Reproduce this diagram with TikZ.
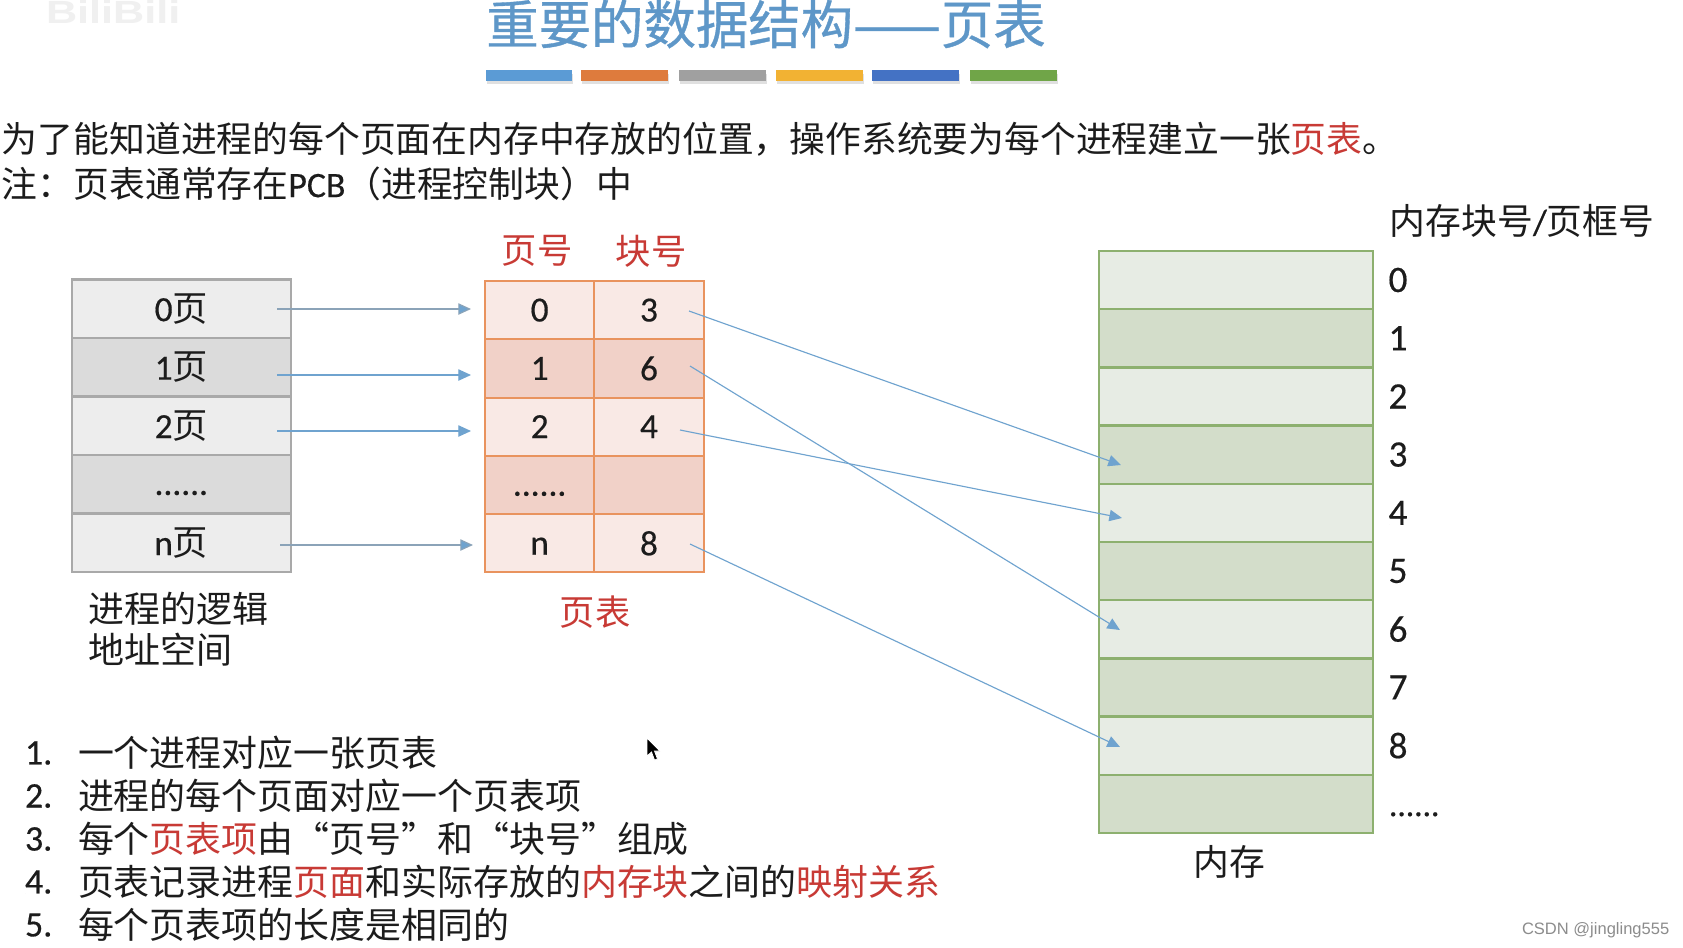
\documentclass[tikz,border=0pt]{standalone}
\usepackage{fontspec}
\setmainfont{Noto Sans CJK SC}
\newfontfamily\lat[FakeBold=0.4]{Carlito}
\newfontfamily\wm{Liberation Sans}
\newfontfamily\ttlfont[FakeBold=0.7]{Noto Sans CJK SC}
\usetikzlibrary{arrows.meta}
\definecolor{ttl}{HTML}{5E97C8}
\definecolor{redt}{HTML}{C83A35}
\definecolor{txt}{HTML}{1C1C1C}
\definecolor{gl}{HTML}{EDEDED}
\definecolor{gd}{HTML}{DBDBDB}
\definecolor{gb}{HTML}{A9A9A9}
\definecolor{ol}{HTML}{F9E9E5}
\definecolor{od}{HTML}{F1D1C8}
\definecolor{ob}{HTML}{E9935E}
\definecolor{ml}{HTML}{E7ECE4}
\definecolor{md}{HTML}{D3DDCA}
\definecolor{mb}{HTML}{8DB06F}
\definecolor{arw}{HTML}{6FA3CF}
\definecolor{arg}{HTML}{8BA3B8}
\newcommand{\rd}[1]{\textcolor{redt}{#1}}
\newcommand{\dts}{\vphantom{0}\raisebox{0.5pt}{......}}
\tikzset{
 x=0.75pt,y=-0.75pt,
 lbl/.style={inner sep=0pt,outer sep=0pt,text=txt,font=\fontsize{26.85pt}{32pt}\selectfont},
 lft/.style={lbl,anchor=west},
 redlbl/.style={lbl,text=redt,font=\fontsize{26.5pt}{30pt}\selectfont},
 num/.style={lbl,anchor=center,font=\lat\fontsize{28pt}{32pt}\selectfont},
 cell/.style={draw=#1,line width=1.7pt,inner sep=0pt,outer sep=0pt,anchor=north west,text=txt,font=\fontsize{26.5pt}{30pt}\selectfont},
 gcell/.style={cell=gb,minimum width=164pt,minimum height=43.8pt},
 ocell/.style={cell=ob,line width=1.5pt,minimum width=82pt,minimum height=43.7pt},
 mcell/.style={cell=mb,minimum width=205.5pt,minimum height=43.7pt},
 bar/.style={inner sep=0pt,outer sep=0pt,minimum height=8pt,anchor=north west},
 conn/.style={draw=arw,line width=0.85pt,-{Triangle[length=9.5pt,width=8.5pt,fill=arw]}},
 conng/.style={conn,draw=arg},
}
\begin{document}
\begin{tikzpicture}
\useasboundingbox (0,0) rectangle (1683,947);
\clip (0,0) rectangle (1683,947);
\fill[white] (0,0) rectangle (1683,947);
% watermark
\node[lft,text=black!6,font=\wm\bfseries\fontsize{24pt}{24pt}\selectfont] (wmk) at (46,12) {\scalebox{1.35}[1]{BiliBili}};
% title
\node[lbl,anchor=center,text=ttl,font=\ttlfont\fontsize{39.3pt}{44pt}\selectfont] (title) at (766,24) {重要的数据结构——页表};
% bars
\foreach \nm/\xa/\bw/\cc in {b1/486/86/5B9BD5,b2/581/87/DE7B3D,b3/679/87/A0A0A0,b4/776/87/F2B233,b5/872/87/4472C4,b6/970/87/70A548}{
  \definecolor{barc}{HTML}{\cc}
  \fill[black!12] (\xa+1,74) rectangle (\xa+\bw+1,84);
  \node[bar,fill=barc,minimum width=\bw*0.75pt] (\nm) at (\xa,70) {};
}
% paragraph
\node[lft] (p1) at (2,139) {为了能知道进程的每个页面在内存中存放的位置，操作系统要为每个进程建立一张\rd{页表}。};
\node[lft] (p2) at (2,183.5) {注：页表通常存在{\lat PCB}（进程控制块）中};
% left column
\node[gcell,fill=gl] (g0) at (72,279.5) {{\lat 0}页};
\node[gcell,fill=gd] (g1) at (72,338) {{\lat 1}页};
\node[gcell,fill=gl] (g2) at (72,396.5) {{\lat 2}页};
\node[gcell,fill=gd] (g3) at (72,455) {\lat \dts};
\node[gcell,fill=gl] (g4) at (72,513.5) {{\lat n}页};
% page table
\foreach \nm/\yy/\fc/\ca/\cb in {0/281/ol/0/3,1/339.3/od/1/6,2/397.6/ol/2/4,3/455.9/od/\dts/{},4/514.2/ol/n/8}{
  \node[ocell,fill=\fc] (ta\nm) at (485,\yy) {\lat\vphantom{0}\ca};
  \node[ocell,fill=\fc] (tb\nm) at (594.3,\yy) {\lat\vphantom{0}\cb};
}
\node[redlbl] (hd1) at (537,251) {页号};
\node[redlbl] (hd2) at (651,251) {块号};
\node[redlbl] (tname) at (595,612) {页表};
% memory
\foreach \i/\fc in {0/ml,1/md,2/ml,3/md,4/ml,5/md,6/ml,7/md,8/ml,9/md}{
  \node[mcell,fill=\fc] (m\i) at (1099,251+\i*58.2) {};
}
\foreach \i in {0,1,2,3,4,5,6,7,8}{
  \node[num] (mn\i) at (1398,280+\i*58.2) {\i};
}
\node[num,anchor=west,font=\lat\fontsize{25pt}{30pt}\selectfont] (mnd) at (1389,806) {\dts};
\node[lbl,anchor=center] (mhd) at (1522,221) {内存块号{\lat /}页框号};
\node[lbl,anchor=center] (mname) at (1229,862) {内存};
\node[lft,font=\fontsize{27pt}{30pt}\selectfont] (ln1) at (88.5,609) {进程的逻辑};
\node[lft,font=\fontsize{27pt}{30pt}\selectfont] (ln2) at (88.5,650) {地址空间};
% list
\foreach \i/\yy/\lt in {1/753/一个进程对应一张页表,2/796/进程的每个页面对应一个页表项,3/839/每个\rd{页表项}由“页号”和“块号”组成,4/882/页表记录进程\rd{页面}和实际存放的\rd{内存块}之间的\rd{映射关系},5/925/每个页表项的长度是相同的}{
  \node[lft,font=\lat\fontsize{27pt}{30pt}\selectfont] (li\i n) at (25,\yy) {\i.};
  \node[lft,font=\fontsize{26.95pt}{30pt}\selectfont] (li\i) at (78,\yy) {\lt};
}
% connector ends
\coordinate (s0) at (277,309); \coordinate (e0) at (471,309);
\coordinate (s1) at (277,375); \coordinate (e1) at (471,375);
\coordinate (s2) at (277,431); \coordinate (e2) at (471,431);
\coordinate (s4) at (280,545); \coordinate (e4) at (473,545);
\coordinate (d0) at (689,311); \coordinate (f0) at (1121,465);
\coordinate (d1) at (690,366); \coordinate (f1) at (1120,630);
\coordinate (d2) at (680,430); \coordinate (f2) at (1122,518);
\coordinate (d4) at (690,544); \coordinate (f4) at (1120,747);
\draw[conng] (s0) -- (e0);
\draw[conn] (s1) -- (e1);
\draw[conn] (s2) -- (e2);
\draw[conng] (s4) -- (e4);
\draw[conn] (d0) -- (f0);
\draw[conn] (d1) -- (f1);
\draw[conn] (d2) -- (f2);
\draw[conn] (d4) -- (f4);
% mouse pointer
\fill[black,draw=white,line width=0.6pt] (647,738) -- (647,756) -- (651.5,752) -- (654.5,760) -- (657.5,759) -- (654.5,751) -- (660,751) -- cycle;
% credit
\node[lft,text=black!45,font=\wm\fontsize{12.4pt}{14pt}\selectfont] (credit) at (1522,930) {CSDN @jingling555};
\end{tikzpicture}
\end{document}
